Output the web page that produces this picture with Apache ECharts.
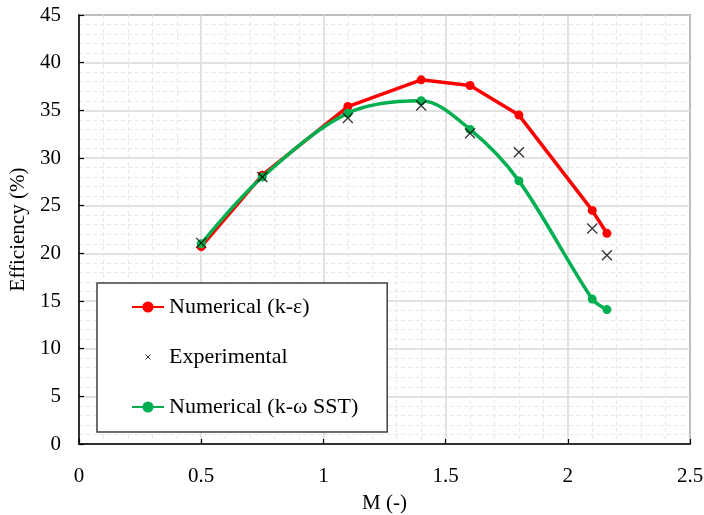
<!DOCTYPE html>
<html>
<head>
<meta charset="utf-8">
<script src="https://cdn.jsdelivr.net/npm/echarts@6/dist/echarts.min.js"></script>
<style>
  html, body { margin: 0; padding: 0; background: #fff; }
  #chart { width: 704px; height: 515px; }
</style>
</head>
<body>
<div id="chart"></div>
<script>
// Mach number of each operating point
const mach = [0.5, 0.75, 1.1, 1.4, 1.6, 1.8, 2.1, 2.16];
// Efficiency (%) per model
const effKEps = [20.7, 28.2, 35.4, 38.2, 37.6, 34.5, 24.5, 22.1];
const effExp = [21.1, 28.0, 34.2, 35.5, 32.6, 30.6, 22.6, 19.8];
const effKOmega = [21.0, 28.0, 34.7, 36.0, 33.0, 27.6, 15.2, 14.1];

const seriesNames = ['Numerical (k-\u03b5)', 'Experimental', 'Numerical (k-\u03c9 SST)'];

const pairs = (xs, ys) => xs.map((x, i) => [x, ys[i]]);

const FONT = "'Liberation Serif', 'Times New Roman', serif";
const crossPath = 'path://M0,0L10,10M10,0L0,10';
// padded so the legend cross stays small inside its icon box
const crossIcon = 'path://M0,0M14,14M4.6,4.6L9.4,9.4M9.4,4.6L4.6,9.4';

const chart = echarts.init(document.getElementById('chart'), null, { renderer: 'canvas' });

const axisCommon = {
  type: 'value',
  axisLine: { show: true, lineStyle: { color: '#000', width: 1.5 } },
  axisTick: { show: true, inside: true, length: 5, lineStyle: { color: '#000', width: 1.2 } },
  axisLabel: { color: '#000', fontFamily: FONT, fontSize: 21 },
  splitLine: { show: true, lineStyle: { color: '#d9d9d9', width: 1.5 } },
  minorTick: { show: false, splitNumber: 5 },
  minorSplitLine: { show: true, lineStyle: { color: '#e8e8e8', width: 1, type: [4, 3] } },
  nameLocation: 'middle',
  nameTextStyle: { color: '#000', fontFamily: FONT, fontSize: 21 }
};

chart.setOption({
  animation: false,
  backgroundColor: '#fff',
  grid: {
    left: 79, right: 14, top: 15, bottom: 71,
    outerBoundsMode: 'none',
    show: true, borderColor: '#404040', borderWidth: 1.5, backgroundColor: 'transparent'
  },
  xAxis: Object.assign({}, axisCommon, {
    min: 0, max: 2.5, interval: 0.5,
    name: 'M (-)', nameGap: 49,
    axisLabel: Object.assign({}, axisCommon.axisLabel, { margin: 22 })
  }),
  yAxis: Object.assign({}, axisCommon, {
    min: 0, max: 45, interval: 5,
    name: 'Efficiency (%)', nameGap: 45,
    axisLabel: Object.assign({}, axisCommon.axisLabel, { margin: 18 })
  }),
  legend: {
    orient: 'vertical',
    left: 97, top: 283,
    padding: [13, 29, 14, 34],
    itemWidth: 32, itemHeight: 14, itemGap: 28,
    borderColor: '#404040', borderWidth: 1.5,
    backgroundColor: '#fff',
    textStyle: { color: '#000', fontFamily: FONT, fontSize: 22 },
    data: [
      { name: seriesNames[0] },
      { name: seriesNames[1], icon: crossIcon, itemStyle: { borderWidth: 1 } },
      { name: seriesNames[2] }
    ]
  },
  series: [
    {
      name: seriesNames[0],
      type: 'line',
      data: pairs(mach, effKEps),
      symbol: 'circle', symbolSize: 9,
      lineStyle: { color: '#ff0000', width: 3.5 },
      itemStyle: { color: '#ff0000' },
      z: 2
    },
    {
      name: seriesNames[2],
      type: 'line',
      data: pairs(mach, effKOmega),
      smooth: 0.33,
      symbol: 'circle', symbolSize: 9,
      lineStyle: { color: '#00b050', width: 3.5 },
      itemStyle: { color: '#00b050' },
      z: 3
    },
    {
      name: seriesNames[1],
      type: 'scatter',
      data: pairs(mach, effExp),
      symbol: crossPath, symbolSize: 10,
      itemStyle: { color: 'rgba(0,0,0,0)', borderColor: '#000', borderWidth: 1.3 },
      z: 4
    }
  ]
});
</script>
</body>
</html>
